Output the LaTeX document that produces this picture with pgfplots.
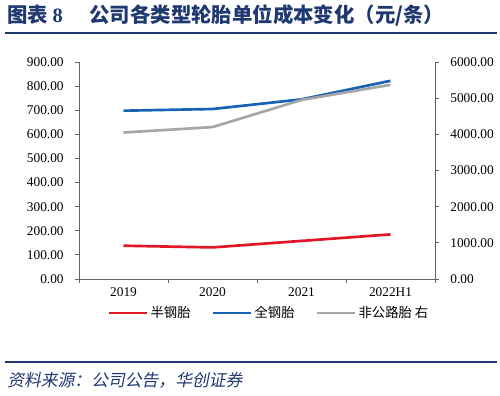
\documentclass[border=0pt]{standalone}
\usepackage{pgfplots}
\pgfplotsset{compat=1.18}
\usepackage{fontspec}
\setmainfont{Liberation Serif}
\newfontfamily\cjk{Noto Sans CJK SC}
\newfontfamily\cjksl[FakeSlant=0.2]{Noto Sans CJK SC}
\definecolor{cred}{RGB}{226,22,36}
\definecolor{cblue}{RGB}{22,98,180}
\definecolor{cgray}{RGB}{166,166,166}
\definecolor{navy}{RGB}{31,56,112}
\definecolor{axgray}{RGB}{100,100,100}

\pgfplotstableread{
x semi full
0 138 698
1 131 705
2 158 745
3 185 822
}\lefttab
\pgfplotstableread{
x offroad
0 4050
1 4200
2 4950
3 5370
}\righttab

\pgfplotsset{
  common/.style={
    at={(59.25pt,87.75pt)}, anchor=south west,
    scale only axis, width=267pt, height=162.75pt,
    xmin=-0.5, xmax=3.5,
    tick align=outside,
    major tick length=3pt,
    tick style={axgray, line width=0.6pt},
    axis line style={axgray, line width=0.6pt},
    tick label style={font=\fontsize{10}{12}\selectfont},
    /pgf/number format/assume math mode=true,
    /pgf/number format/fixed,
    /pgf/number format/fixed zerofill,
    /pgf/number format/precision=2,
    /pgf/number format/1000 sep={},
  },
}

\begin{document}
\begin{tikzpicture}[x=0.75pt,y=0.75pt]
\path[use as bounding box] (0,0) rectangle (500,396);
\node[anchor=base west, text=navy, inner sep=0pt, font=\fontsize{15.3}{17}\selectfont\cjk\bfseries] at (7,373) {图表 {\rmfamily\bfseries 8}\hspace{1.3em}公司各类型轮胎单位成本变化（元/条）};
\draw[navy, line width=1.5pt] (5,363) -- (497,363);
\draw[navy, line width=1.3pt] (5,34) -- (497,34);
\node[anchor=base west, text=navy, inner sep=0pt, font=\fontsize{12.6}{14}\selectfont\cjksl] at (7,9) {资料来源：公司公告，华创证券};

\begin{axis}[common,
  ymin=0, ymax=900, ytick={0,100,...,900},
  xtick={0,1,2,3}, xticklabels={2019,2020,2021,2022H1},
  minor xtick={-0.5,0.5,1.5,2.5,3.5},
  major x tick style={draw=none},
  minor tick length=3pt,
  axis x line*=bottom, axis y line*=left,
  yticklabel style={xshift=-5pt},
]
\addplot[cred, line width=2pt] table[x=x, y=semi] {\lefttab};
\addplot[cblue, line width=2pt] table[x=x, y=full] {\lefttab};
\end{axis}

\begin{axis}[common,
  ymin=0, ymax=6000, ytick={0,1000,...,6000},
  axis y line*=right, axis x line=none,
  yticklabel style={xshift=5pt},
  legend style={at={(0.535,-0.157)}, anchor=center, draw=none, fill=none,
    font=\fontsize{10}{12}\selectfont\cjk, legend columns=3,
    /tikz/every even column/.append style={column sep=14pt}},
  legend image code/.code={\draw[#1] (0pt,0pt) -- (28pt,0pt);},
]
\addlegendimage{cred, line width=2pt}
\addlegendentry{半钢胎}
\addlegendimage{cblue, line width=2pt}
\addlegendentry{全钢胎}
\addplot[cgray, line width=2pt] table[x=x, y=offroad] {\righttab};
\addlegendentry{非公路胎 右}
\end{axis}
\end{tikzpicture}
\end{document}
